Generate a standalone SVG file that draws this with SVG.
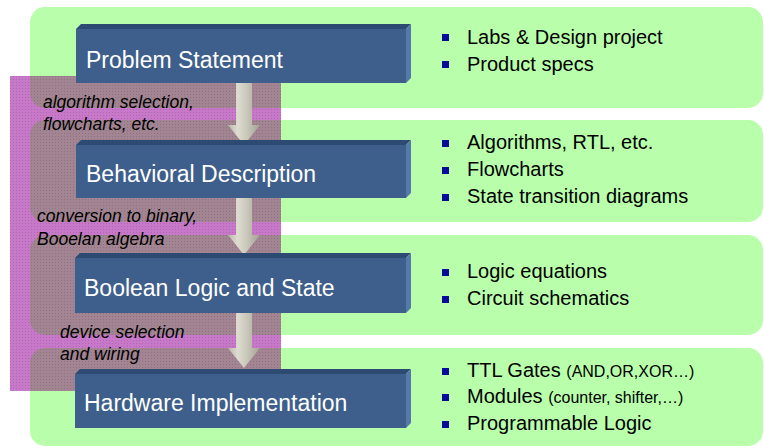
<svg xmlns="http://www.w3.org/2000/svg" width="764" height="448" viewBox="0 0 764 448">
  <style>
    .band { fill: #b9ffab; }
    .band-tint { fill: #a28492; }
    .front { fill: #3e5f8b; }
    .top { fill: #2d4a72; }
    .side { fill: #5479ab; }
    .stage { font-family: "Liberation Sans", Arial, sans-serif; font-size: 23px; fill: #ffffff; }
    .note { font-family: "Liberation Sans", Arial, sans-serif; font-size: 20px; fill: #000000; }
    .small { font-size: 16px; }
    .step { font-family: "Liberation Sans", Arial, sans-serif; font-size: 17.5px; font-style: italic; fill: #000000; }
    .bullet { fill: #0a0a9a; }
    .arrow { fill: url(#arrowFill); }
  </style>
  <defs>
    <linearGradient id="arrowFill" x1="0" y1="0" x2="1" y2="0">
      <stop offset="0" stop-color="#b9b8aa"/>
      <stop offset="0.3" stop-color="#dedcd0"/>
      <stop offset="0.6" stop-color="#c9c7b9"/>
      <stop offset="1" stop-color="#a3a193"/>
    </linearGradient>
    <clipPath id="overlayClip">
      <rect x="10" y="76" width="271" height="315"/>
    </clipPath>
    <pattern id="dots" width="3" height="3" patternUnits="userSpaceOnUse">
      <rect x="1" y="1" width="1" height="1" fill="#000000" fill-opacity="0.12"/>
    </pattern>
  </defs>

  <!-- background bands -->
  <g id="bands">
    <rect class="band" x="30" y="7" width="733" height="101" rx="15"/>
    <rect class="band" x="30" y="120" width="733" height="102" rx="15"/>
    <rect class="band" x="30" y="235" width="733" height="100" rx="15"/>
    <rect class="band" x="30" y="348" width="733" height="98" rx="15"/>
  </g>

  <!-- translucent process-step panel -->
  <g id="step-panel">
    <rect x="10" y="76" width="271" height="315" fill="#c878c8"/>
    <g clip-path="url(#overlayClip)">
      <rect class="band-tint" x="30" y="7" width="733" height="101" rx="15"/>
      <rect class="band-tint" x="30" y="120" width="733" height="102" rx="15"/>
      <rect class="band-tint" x="30" y="235" width="733" height="100" rx="15"/>
      <rect class="band-tint" x="30" y="348" width="733" height="98" rx="15"/>
    </g>
    <rect x="10" y="76" width="271" height="315" fill="url(#dots)"/>
  </g>

  <!-- connectors -->
  <g id="connectors">
    <path class="arrow" d="M236,83 H252 V125 H260 L244,145 L228,125 H236 Z"/>
    <path class="arrow" d="M236,198 H252 V235 H260 L244,255 L228,235 H236 Z"/>
    <path class="arrow" d="M236,313 H252 V348 H260 L244,368 L228,348 H236 Z"/>
  </g>

  <!-- stage blocks -->
  <g id="stage-problem">
    <rect class="front" x="76" y="29" width="330" height="54"/>
    <polygon class="top" points="76,29 81,24 411,24 406,29"/>
    <polygon class="side" points="406,29 411,24 411,78 406,83"/>
    <text class="stage" x="86" y="68">Problem Statement</text>
  </g>
  <g id="stage-behavioral">
    <rect class="front" x="76" y="145" width="330" height="53"/>
    <polygon class="top" points="76,145 81,140 411,140 406,145"/>
    <polygon class="side" points="406,145 411,140 411,193 406,198"/>
    <text class="stage" x="86" y="182">Behavioral Description</text>
  </g>
  <g id="stage-boolean">
    <rect class="front" x="75" y="258" width="331" height="55"/>
    <polygon class="top" points="75,258 80,253 411,253 406,258"/>
    <polygon class="side" points="406,258 411,253 411,308 406,313"/>
    <text class="stage" x="84" y="296">Boolean Logic and State</text>
  </g>
  <g id="stage-hardware">
    <rect class="front" x="75" y="374" width="331" height="54"/>
    <polygon class="top" points="75,374 80,369 411,369 406,374"/>
    <polygon class="side" points="406,374 411,369 411,423 406,428"/>
    <text class="stage" x="84" y="411">Hardware Implementation</text>
  </g>

  <!-- transition labels -->
  <g id="label-algorithm">
    <text class="step" x="43" y="108">algorithm selection,</text>
    <text class="step" x="43" y="130">flowcharts, etc.</text>
  </g>
  <g id="label-conversion">
    <text class="step" x="37" y="222">conversion to binary,</text>
    <text class="step" x="37" y="245">Booelan algebra</text>
  </g>
  <g id="label-device">
    <text class="step" x="60" y="338">device selection</text>
    <text class="step" x="60" y="360">and wiring</text>
  </g>

  <!-- bullet notes -->
  <g id="notes-problem">
    <rect class="bullet" x="442" y="34" width="7" height="7"/>
    <text class="note" x="467" y="44">Labs &amp; Design project</text>
    <rect class="bullet" x="442" y="61" width="7" height="7"/>
    <text class="note" x="467" y="71">Product specs</text>
  </g>
  <g id="notes-behavioral">
    <rect class="bullet" x="442" y="140" width="7" height="7"/>
    <text class="note" x="467" y="149">Algorithms, RTL, etc.</text>
    <rect class="bullet" x="442" y="167" width="7" height="7"/>
    <text class="note" x="467" y="176">Flowcharts</text>
    <rect class="bullet" x="442" y="194" width="7" height="7"/>
    <text class="note" x="467" y="203">State transition diagrams</text>
  </g>
  <g id="notes-boolean">
    <rect class="bullet" x="442" y="269" width="7" height="7"/>
    <text class="note" x="467" y="278">Logic equations</text>
    <rect class="bullet" x="442" y="296" width="7" height="7"/>
    <text class="note" x="467" y="305">Circuit schematics</text>
  </g>
  <g id="notes-hardware">
    <rect class="bullet" x="442" y="368" width="7" height="7"/>
    <text class="note" x="467" y="377">TTL Gates <tspan class="small">(AND,OR,XOR…)</tspan></text>
    <rect class="bullet" x="442" y="394" width="7" height="7"/>
    <text class="note" x="467" y="403">Modules <tspan class="small">(counter, shifter,…)</tspan></text>
    <rect class="bullet" x="442" y="421" width="7" height="7"/>
    <text class="note" x="467" y="430">Programmable Logic</text>
  </g>
</svg>
